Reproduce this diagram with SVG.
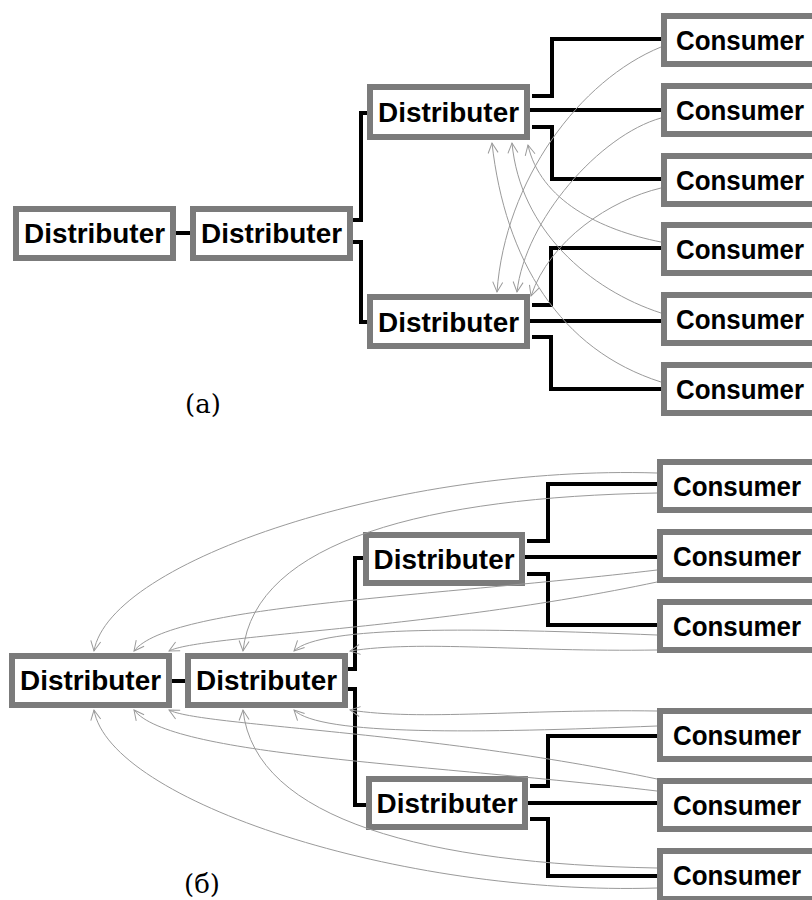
<svg xmlns="http://www.w3.org/2000/svg" width="812" height="900" viewBox="0 0 812 900">
<defs>
<marker id="arr" markerUnits="userSpaceOnUse" markerWidth="12" markerHeight="12" refX="10" refY="5" orient="auto" overflow="visible">
<path d="M0,0 L10,5 L0,10" fill="none" stroke="#9a9a9a" stroke-width="1"/>
</marker>
<style>
.box{fill:#fff;stroke:#7b7b7b;stroke-width:6}
.t{font-family:"Liberation Sans",Arial,sans-serif;font-weight:bold;font-size:28px;fill:#000}
.d{text-anchor:middle}
.wire{fill:none;stroke:#000;stroke-width:4}
.cur{fill:none;stroke:#9a9a9a;stroke-width:1;marker-end:url(#arr)}
.lab{font-family:"DejaVu Serif","Liberation Serif",serif;font-size:26px;text-anchor:middle;fill:#000}
</style>
</defs>

<!-- ===== (a) ===== -->
<g id="a-dist1"><rect class="box" x="16" y="209" width="157" height="49"/><text class="t d" x="94.5" y="243" textLength="141" lengthAdjust="spacingAndGlyphs">Distributer</text></g>
<g id="a-dist2"><rect class="box" x="193" y="209" width="157" height="49"/><text class="t d" x="271.5" y="243" textLength="141" lengthAdjust="spacingAndGlyphs">Distributer</text></g>
<g id="a-dist3"><rect class="box" x="370" y="87" width="157" height="50"/><text class="t d" x="448.5" y="122" textLength="141" lengthAdjust="spacingAndGlyphs">Distributer</text></g>
<g id="a-dist4"><rect class="box" x="370" y="297" width="157" height="49"/><text class="t d" x="448.5" y="332" textLength="141" lengthAdjust="spacingAndGlyphs">Distributer</text></g>
<g id="a-cons1"><rect class="box" x="664" y="16" width="170" height="48"/><text class="t" x="676" y="50" textLength="128" lengthAdjust="spacingAndGlyphs">Consumer</text></g>
<g id="a-cons2"><rect class="box" x="664" y="86" width="170" height="48"/><text class="t" x="676" y="120" textLength="128" lengthAdjust="spacingAndGlyphs">Consumer</text></g>
<g id="a-cons3"><rect class="box" x="664" y="156" width="170" height="48"/><text class="t" x="676" y="190" textLength="128" lengthAdjust="spacingAndGlyphs">Consumer</text></g>
<g id="a-cons4"><rect class="box" x="664" y="225" width="170" height="48"/><text class="t" x="676" y="259" textLength="128" lengthAdjust="spacingAndGlyphs">Consumer</text></g>
<g id="a-cons5"><rect class="box" x="664" y="295" width="170" height="48"/><text class="t" x="676" y="329" textLength="128" lengthAdjust="spacingAndGlyphs">Consumer</text></g>
<g id="a-cons6"><rect class="box" x="664" y="365" width="170" height="48"/><text class="t" x="676" y="399" textLength="128" lengthAdjust="spacingAndGlyphs">Consumer</text></g>

<!-- ===== (b) ===== -->
<g id="b-dist1"><rect class="box" x="12" y="656" width="157" height="49"/><text class="t d" x="90.5" y="690" textLength="141" lengthAdjust="spacingAndGlyphs">Distributer</text></g>
<g id="b-dist2"><rect class="box" x="188" y="656" width="157" height="49"/><text class="t d" x="266.5" y="690" textLength="141" lengthAdjust="spacingAndGlyphs">Distributer</text></g>
<g id="b-dist3"><rect class="box" x="366" y="535" width="156" height="48"/><text class="t d" x="444" y="569" textLength="141" lengthAdjust="spacingAndGlyphs">Distributer</text></g>
<g id="b-dist4"><rect class="box" x="369" y="779" width="156" height="48"/><text class="t d" x="447" y="813" textLength="141" lengthAdjust="spacingAndGlyphs">Distributer</text></g>
<g id="b-cons1"><rect class="box" x="660" y="462" width="170" height="48"/><text class="t" x="673" y="496" textLength="128" lengthAdjust="spacingAndGlyphs">Consumer</text></g>
<g id="b-cons2"><rect class="box" x="660" y="532" width="170" height="48"/><text class="t" x="673" y="566" textLength="128" lengthAdjust="spacingAndGlyphs">Consumer</text></g>
<g id="b-cons3"><rect class="box" x="660" y="602" width="170" height="48"/><text class="t" x="673" y="636" textLength="128" lengthAdjust="spacingAndGlyphs">Consumer</text></g>
<g id="b-cons4"><rect class="box" x="660" y="711" width="170" height="48"/><text class="t" x="673" y="745" textLength="128" lengthAdjust="spacingAndGlyphs">Consumer</text></g>
<g id="b-cons5"><rect class="box" x="660" y="781" width="170" height="48"/><text class="t" x="673" y="815" textLength="128" lengthAdjust="spacingAndGlyphs">Consumer</text></g>
<g id="b-cons6"><rect class="box" x="660" y="851" width="170" height="48"/><text class="t" x="673" y="885" textLength="128" lengthAdjust="spacingAndGlyphs">Consumer</text></g>

<g id="connectors">
<!-- (a) wires -->
<path class="wire" d="M176,233 H190"/>
<path class="wire" d="M353,220 H361 V113 H367"/>
<path class="wire" d="M353,242 H361 V322 H367"/>
<path class="wire" d="M532,96 H552 V39 H661"/>
<path class="wire" d="M530,110 H661"/>
<path class="wire" d="M532,127 H552 V179 H661"/>
<path class="wire" d="M532,305 H551 V248 H661"/>
<path class="wire" d="M530,321 H661"/>
<path class="wire" d="M532,337 H551 V389 H661"/>
<!-- (a) feedback curves -->
<path class="cur" d="M661,382 C560,350 505,260 492,143"/>
<path class="cur" d="M661,313 C590,290 520,230 512,143"/>
<path class="cur" d="M661,242 C600,230 540,200 528,145"/>
<path class="cur" d="M661,47 C580,80 505,180 497,292"/>
<path class="cur" d="M661,118 C600,135 525,220 517,292"/>
<path class="cur" d="M661,188 C610,200 550,240 531,296"/>

<!-- (b) wires -->
<path class="wire" d="M172,681 H185"/>
<path class="wire" d="M348,669 H355 V558 H363"/>
<path class="wire" d="M348,689 H355 V805 H366"/>
<path class="wire" d="M527,541 H548 V484 H657"/>
<path class="wire" d="M525,557 H657"/>
<path class="wire" d="M527,574 H548 V625 H657"/>
<path class="wire" d="M530,786 H548 V736 H657"/>
<path class="wire" d="M528,803 H657"/>
<path class="wire" d="M530,819 H548 V876 H657"/>
<!-- (b) feedback curves -->
<path class="cur" d="M657,473 C400,465 110,560 94,651"/>
<path class="cur" d="M657,493 C430,497 255,540 243,651"/>
<path class="cur" d="M657,570 C420,598 170,605 134,651"/>
<path class="cur" d="M657,582 C430,630 200,635 169,651"/>
<path class="cur" d="M657,635 C480,628 320,625 294,651"/>
<path class="cur" d="M657,650 C520,652 420,640 350,651"/>
<path class="cur" d="M657,888 C400,896 110,801 94,710"/>
<path class="cur" d="M657,868 C430,864 255,821 243,710"/>
<path class="cur" d="M657,791 C420,763 170,756 134,710"/>
<path class="cur" d="M657,779 C430,731 200,726 169,710"/>
<path class="cur" d="M657,726 C480,733 320,736 294,710"/>
<path class="cur" d="M657,711 C520,709 420,721 350,710"/>
</g>

<text class="lab" x="203" y="413">(a)</text>
<text class="lab" x="202" y="893">(б)</text>
</svg>
